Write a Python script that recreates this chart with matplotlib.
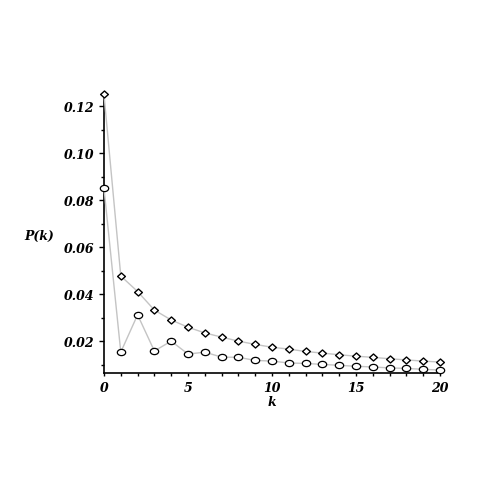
import matplotlib
matplotlib.use("Agg")
import matplotlib.pyplot as plt
from matplotlib.path import Path
from matplotlib.transforms import Affine2D
from matplotlib.ticker import MultipleLocator, FormatStrFormatter

k = list(range(21))
p_diamond = [0.125, 0.0478, 0.0412, 0.0333, 0.0291, 0.0260, 0.0236, 0.0218, 0.0201, 0.0187,
             0.0175, 0.0167, 0.0157, 0.0150, 0.0143, 0.0137, 0.0132, 0.0126, 0.0121, 0.0116, 0.0112]
p_circle = [0.0851, 0.0154, 0.0313, 0.0159, 0.0201, 0.0146, 0.0154, 0.0133, 0.0132, 0.0119,
            0.0116, 0.0108, 0.0106, 0.0102, 0.0098, 0.0094, 0.0091, 0.0087, 0.0085, 0.0081, 0.0078]
xticks = [0, 5, 10, 15, 20]
yticks = [0.02, 0.04, 0.06, 0.08, 0.10, 0.12]

FAM = "DejaVu Serif"
FS = 9
font = dict(family=FAM, weight="bold", style="italic", size=FS)

# slightly flattened circle marker, as in the reference
ellipse = Path.unit_circle().transformed(Affine2D().scale(1.0, 0.75))
diamond = Path([(0, 1), (1, 0), (0, -1), (-1, 0), (0, 1)],
               [Path.MOVETO, Path.LINETO, Path.LINETO, Path.LINETO, Path.CLOSEPOLY]).transformed(
    Affine2D().scale(1.0, 0.9))

fig = plt.figure(figsize=(4.85, 4.85), dpi=100)
ax = fig.add_axes([0.2144, 0.2282, 0.6928, 0.5749])

line_color = "#c4c4c4"
ax.plot(k, p_diamond, color=line_color, lw=1.0, marker=diamond, markersize=5.6,
        markerfacecolor="white", markeredgecolor="black", markeredgewidth=1.0, clip_on=False, zorder=3)
ax.plot(k, p_circle, color=line_color, lw=1.0, marker=ellipse, markersize=6.0,
        markerfacecolor="white", markeredgecolor="black", markeredgewidth=0.9, clip_on=False, zorder=3)

ax.set_xlim(0, 20)
ax.set_ylim(0.0064, 0.125)

for s in ["top", "right"]:
    ax.spines[s].set_visible(False)
for s in ["left", "bottom"]:
    ax.spines[s].set_linewidth(1.2)

ax.set_xticks(xticks)
ax.set_yticks(yticks)
ax.xaxis.set_minor_locator(MultipleLocator(1))
ax.yaxis.set_minor_locator(MultipleLocator(0.01))
ax.yaxis.set_major_formatter(FormatStrFormatter("%.2f"))
ax.tick_params(axis="x", which="both", length=2.4, width=1.0, direction="out", pad=3)
ax.tick_params(axis="y", which="major", length=3.6, width=1.0, direction="out", pad=3.5)
ax.tick_params(axis="y", which="minor", length=2.2, width=1.0, direction="out")

for lab in ax.get_xticklabels() + ax.get_yticklabels():
    lab.set_fontfamily(FAM)
    lab.set_fontweight("bold")
    lab.set_fontstyle("italic")
    lab.set_fontsize(FS)

fig.text(39 / 485, 1 - 236 / 485, "P(k)", ha="center", va="center", **font)
fig.text(272 / 485, 1 - 402 / 485, "k", ha="center", va="center", **font)

fig.savefig("out.png", dpi=100)
